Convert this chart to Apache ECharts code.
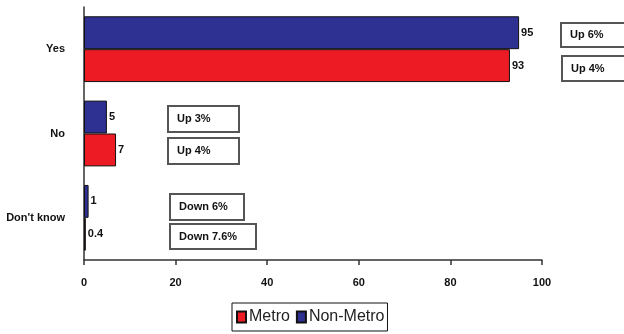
<!DOCTYPE html>
<html>
<head>
<meta charset="utf-8">
<script src="https://cdn.jsdelivr.net/npm/echarts@6/dist/echarts.min.js"></script>
<style>
html,body{margin:0;padding:0;background:#fff;}
#chart{width:624px;height:334px;}
</style>
</head>
<body>
<div id="chart"></div>
<script>
const categories = ['Yes', 'No', "Don't know"];
const seriesNames = ['Metro', 'Non-Metro'];
const metroValues = [93, 7, 0.4];
const nonMetroValues = [95, 5, 1];
const xTicks = [0, 20, 40, 60, 80, 100];
const changeNotes = ['Up 6%', 'Up 4%', 'Up 3%', 'Up 4%', 'Down 6%', 'Down 7.6%'];

// layout of the note boxes (pixels)
const noteBoxes = [
  {x: 560, y: 22, w: 68, h: 24},
  {x: 561, y: 55, w: 68, h: 25},
  {x: 167, y: 105, w: 71, h: 26},
  {x: 167, y: 137, w: 71, h: 26},
  {x: 169, y: 193, w: 74, h: 26},
  {x: 169, y: 223, w: 86, h: 25}
];

const FONT = "'Liberation Sans', Arial, sans-serif";
const chart = echarts.init(document.getElementById('chart'), null, {renderer: 'canvas'});

const graphics = changeNotes.map((t, i) => {
  const b = noteBoxes[i];
  return {
    type: 'group', left: b.x, top: b.y,
    children: [
      {type: 'rect', shape: {x: 0, y: 0, width: b.w, height: b.h},
       style: {fill: '#fff', stroke: '#555', lineWidth: 2}},
      {type: 'text', x: 9, y: b.h / 2,
       style: {text: t, fill: '#111', font: 'bold 11px ' + FONT, verticalAlign: 'middle'}}
    ]
  };
});

const labelStyle = {
  show: true, position: 'right', distance: 2,
  color: '#111', fontFamily: FONT, fontWeight: 'bold', fontSize: 11
};

chart.setOption({
  animation: false,
  backgroundColor: '#fff',
  textStyle: {fontFamily: FONT},
  grid: {left: 84, right: 82, top: 7, bottom: 74},
  legend: {
    data: seriesNames,
    left: 232, top: 303,
    borderColor: '#111', borderWidth: 1, borderRadius: 0,
    padding: [6, 3, 6, 4],
    itemWidth: 9, itemHeight: 11, itemGap: 6,
    icon: 'rect',
    textStyle: {fontSize: 16, color: '#222', fontFamily: FONT, padding: [0, 0, 0, -2]}
  },
  xAxis: {
    type: 'value', min: xTicks[0], max: xTicks[xTicks.length - 1], interval: 20,
    axisLine: {show: true, lineStyle: {color: '#333', width: 1.5}},
    axisTick: {show: true, length: 5, lineStyle: {color: '#333', width: 1.5}},
    splitLine: {show: false},
    axisLabel: {margin: 17, color: '#111', fontWeight: 'bold', fontSize: 11, fontFamily: FONT}
  },
  yAxis: {
    type: 'category', data: categories, inverse: true,
    axisLine: {show: true, lineStyle: {color: '#333', width: 1.5}},
    axisTick: {show: false},
    axisLabel: {margin: 19, color: '#111', fontWeight: 'bold', fontSize: 11, fontFamily: FONT}
  },
  series: [
    {
      name: 'Non-Metro', type: 'bar', data: nonMetroValues,
      barGap: '0%', barCategoryGap: '22%',
      itemStyle: {color: '#2E3192', borderColor: '#111', borderWidth: 1},
      label: labelStyle
    },
    {
      name: 'Metro', type: 'bar', data: metroValues,
      barGap: '0%', barCategoryGap: '22%',
      itemStyle: {color: '#ED1C24', borderColor: '#111', borderWidth: 1},
      label: labelStyle
    }
  ],
  graphic: graphics
});
</script>
</body>
</html>
